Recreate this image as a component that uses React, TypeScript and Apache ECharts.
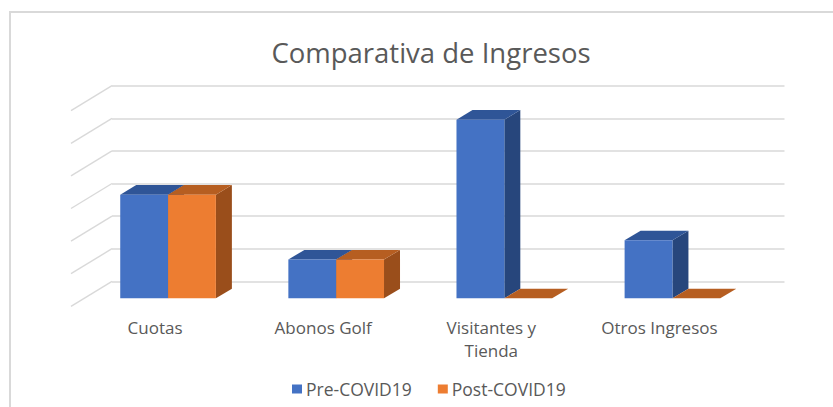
import React, { useEffect, useRef } from "react";
import * as echarts from "echarts";

const categories = ["Cuotas", "Abonos Golf", "Visitantes y\nTienda", "Otros Ingresos"];
const seriesNames = ["Pre-COVID19", "Post-COVID19"];
const preCovid = [3.18, 1.19, 5.48, 1.78];
const postCovid = [3.18, 1.19, 0, 0];
const gridTicks = [0, 1, 2, 3, 4, 5, 6];

const FONT = "'Open Sans', 'Noto Sans', sans-serif";
const TEXT = "#595959";
const GRID = "#d9d9d9";

// projection offsets
const FRONT = { dx: -28, dy: 17 };
const DEPTH = { dx: 16, dy: -9.6 };
const WALL = { dx: -41, dy: 25 };

const palettes = [
  { front: "#4472C4", top: "#2F5597", side: "#27467C" },
  { front: "#ED7D31", top: "#B65E21", side: "#9A4E1B" },
];

function barRenderer(s: number) {
  return (params: any, api: any) => {
    const cat = api.value(0);
    const v = api.value(1);
    const back = api.coord([cat, v]);
    const base = api.coord([cat, 0]);
    const cw = api.size([1, 0])[0];
    const bw = cw * 0.2845;
    const cx = back[0] + FRONT.dx;
    const x0 = s === 0 ? cx - bw : cx;
    const x1 = x0 + bw;
    const yTop = back[1] + FRONT.dy;
    const yBot = base[1] + FRONT.dy;
    const p = palettes[s];
    return {
      type: "group",
      children: [
        {
          type: "polygon",
          shape: {
            points: [
              [x1, yTop],
              [x1 + DEPTH.dx, yTop + DEPTH.dy],
              [x1 + DEPTH.dx, yBot + DEPTH.dy],
              [x1, yBot],
            ],
          },
          style: { fill: p.side },
        },
        {
          type: "polygon",
          shape: {
            points: [
              [x0, yTop],
              [x1, yTop],
              [x1 + DEPTH.dx, yTop + DEPTH.dy],
              [x0 + DEPTH.dx, yTop + DEPTH.dy],
            ],
          },
          style: { fill: p.top },
        },
        {
          type: "rect",
          shape: { x: x0, y: yTop, width: bw, height: Math.max(0, yBot - yTop) },
          style: { fill: p.front },
        },
      ],
    };
  };
}

export default function App() {
  const ref = useRef<HTMLDivElement>(null);
  useEffect(() => {
    const chart = echarts.init(ref.current!, null, { renderer: "svg" });
    chart.setOption({
      animation: false,
      backgroundColor: "#ffffff",
      title: {
        text: "Comparativa de Ingresos",
        left: 426,
        top: 33,
        textAlign: "center",
        textStyle: { fontFamily: FONT, fontSize: 27.5, fontWeight: "normal", color: TEXT },
      },
      legend: {
        data: seriesNames.map((n, i) => ({ name: n, itemStyle: { color: palettes[i].front } })),
        left: 287,
        top: 375,
        icon: "rect",
        itemWidth: 10,
        itemHeight: 9,
        itemGap: 26,
        textStyle: { fontFamily: FONT, fontSize: 17.5, color: TEXT, padding: [0, 0, 0, -1] },
      },
      graphic: [
        {
          type: "rect",
          shape: { x: 10, y: 12, width: 900, height: 500 },
          style: { fill: "none", stroke: GRID, lineWidth: 2 },
          silent: true,
        },
      ],
      grid: [
        { left: 112, right: 48.5, top: 85.7, bottom: 125.7 },
        { left: 71, right: 89.5, top: 110.7, bottom: 100.7 },
      ],
      xAxis: [
        {
          type: "category",
          gridIndex: 0,
          data: categories,
          boundaryGap: true,
          axisLine: { show: false },
          axisTick: { show: false },
          axisLabel: { show: false },
        },
        {
          type: "category",
          gridIndex: 1,
          data: categories,
          boundaryGap: true,
          axisLine: { show: false },
          axisTick: { show: false },
          axisLabel: {
            margin: 9,
            fontFamily: FONT,
            fontSize: 17,
            color: TEXT,
            lineHeight: 23.5,
            interval: 0,
          },
        },
      ],
      yAxis: [
        {
          type: "value",
          gridIndex: 0,
          min: 0,
          max: 6,
          interval: 1,
          axisLine: { show: false },
          axisTick: { show: false },
          axisLabel: { show: false },
          splitLine: { show: true, lineStyle: { color: GRID, width: 1.6 } },
        },
        {
          type: "value",
          gridIndex: 1,
          min: 0,
          max: 6,
          show: false,
          splitLine: { show: false },
        },
      ],
      series: [
        {
          type: "custom",
          name: "wall",
          xAxisIndex: 0,
          yAxisIndex: 0,
          silent: true,
          data: gridTicks.map((t) => [0, t]),
          renderItem: (params: any, api: any) => {
            const p = api.coord([0, api.value(1)]);
            const x = params.coordSys.x;
            return {
              type: "line",
              shape: { x1: x, y1: p[1], x2: x + WALL.dx, y2: p[1] + WALL.dy },
              style: { stroke: GRID, lineWidth: 1.4 },
            };
          },
          z: 1,
        },
        {
          type: "custom",
          name: seriesNames[0],
          xAxisIndex: 0,
          yAxisIndex: 0,
          itemStyle: { color: palettes[0].front },
          data: preCovid.map((v, i) => [i, v]),
          encode: { x: 0, y: 1 },
          renderItem: barRenderer(0),
          z: 2,
        },
        {
          type: "custom",
          name: seriesNames[1],
          xAxisIndex: 0,
          yAxisIndex: 0,
          itemStyle: { color: palettes[1].front },
          data: postCovid.map((v, i) => [i, v]),
          encode: { x: 0, y: 1 },
          renderItem: barRenderer(1),
          z: 3,
        },
      ],
    });
    return () => chart.dispose();
  }, []);
  return (
    <div
      ref={ref}
      style={{ position: "fixed", left: 0, top: 0, width: 833, height: 407 }}
    />
  );
}
